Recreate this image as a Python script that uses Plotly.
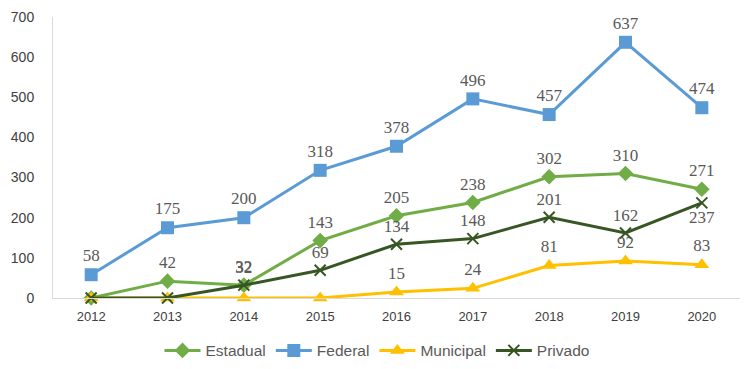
import plotly.graph_objects as go

years = ["2012", "2013", "2014", "2015", "2016", "2017", "2018", "2019", "2020"]
estadual = [0, 42, 32, 143, 205, 238, 302, 310, 271]
federal = [58, 175, 200, 318, 378, 496, 457, 637, 474]
municipal = [0, 0, 0, 0, 15, 24, 81, 92, 83]
privado = [0, 0, 32, 69, 134, 148, 201, 162, 237]
y_ticks = [0, 100, 200, 300, 400, 500, 600, 700]

label_font = dict(family="Liberation Serif", size=17, color="#595959")


def labels(vals):
    return [str(v) if v != 0 else "" for v in vals]


series = [
    ("Estadual", estadual, "#70AD47", dict(symbol="diamond", size=12)),
    ("Federal", federal, "#5B9BD5", dict(symbol="square", size=13)),
    ("Municipal", municipal, "#FFC000", dict(symbol="triangle-up", size=13)),
    ("Privado", privado, "#375623",
     dict(symbol="x-thin", size=11, line=dict(width=2, color="#375623"))),
]

fig = go.Figure()
for name, vals, color, mk in series:
    pos = ["top center"] * len(vals)
    if name == "Privado":
        pos[-1] = "bottom center"
    marker = dict(color=color, **mk)
    fig.add_trace(go.Scatter(
        x=years, y=vals, name=name, mode="lines+markers+text",
        line=dict(color=color, width=3),
        marker=marker,
        text=labels(vals), textposition=pos, textfont=label_font,
        cliponaxis=False,
    ))

fig.update_layout(
    width=750, height=369,
    margin=dict(l=45, r=18, t=9, b=79, autoexpand=False),
    paper_bgcolor="white", plot_bgcolor="white",
    showlegend=True,
    legend=dict(orientation="h", x=0.155, xanchor="left", y=-0.188, yanchor="middle",
                font=dict(family="Liberation Sans", size=15.5, color="#595959"),
                itemwidth=36),
    xaxis=dict(type="category", range=[-0.5, 8.5], showgrid=False, automargin=False,
               showline=True, linecolor="#D9D9D9", linewidth=1, ticks="",
               ticklabelstandoff=6,
               tickfont=dict(family="Liberation Sans", size=13, color="#404040")),
    yaxis=dict(range=[0, 700], tickvals=y_ticks, showgrid=False, zeroline=False,
               automargin=False, ticklabeloverflow="allow",
               showline=True, linecolor="#D9D9D9", linewidth=1, ticks="",
               ticklabelstandoff=15,
               tickfont=dict(family="Liberation Sans", size=14, color="#404040")),
)

fig.write_html("out.html")
